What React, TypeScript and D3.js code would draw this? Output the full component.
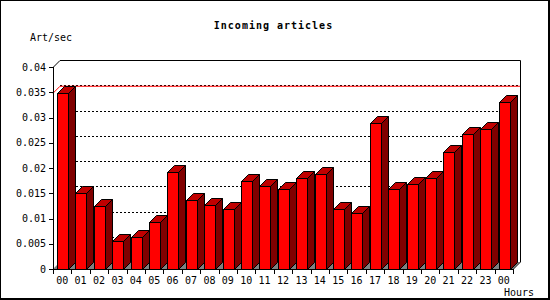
import React, { useEffect } from "react";
import * as d3 from "d3";

const hours = ["00","01","02","03","04","05","06","07","08","09","10","11","12","13","14","15","16","17","18","19","20","21","22","23","00"];
const rates = [0.0348,0.0150,0.0125,0.0055,0.0063,0.0093,0.0192,0.0136,0.0127,0.0119,0.0175,0.0164,0.0158,0.0180,0.0188,0.0119,0.0111,0.0289,0.0158,0.0168,0.0180,0.0232,0.0267,0.0277,0.0330];
const yTicks = [0,0.005,0.01,0.015,0.02,0.025,0.03,0.035,0.04];
const yTickLabels = ["0","0.005","0.01","0.015","0.02","0.025","0.03","0.035","0.04"];
const gridValues = [0.005,0.01,0.015,0.02,0.025,0.03,0.035];

const W = 550, H = 300;
const D = 7;
const mono = "'DejaVu Sans Mono', monospace";

export default function App() {
  useEffect(() => { document.body.style.margin = "0"; }, []);
  const y = d3.scaleLinear().domain([0, 0.04]).range([269, 67]);
  const x = d3.scaleLinear().domain([0, hours.length]).range([53, 513]);
  const maxV = d3.max(rates) as number;
  const x0 = x(0), x1 = x(hours.length);
  const yb = y(0);
  const pts = (a: number[][]) => a.map(p => p.join(",")).join(" ");

  return (
    <svg width={W} height={H} style={{ position: "absolute", left: 0, top: 0, display: "block" }}>
      <rect x={0} y={0} width={W} height={H} fill="#fff" />
      {/* frame */}
      <line x1={0} y1={0.5} x2={550} y2={0.5} stroke="#000" />
      <line x1={0.5} y1={0} x2={0.5} y2={300} stroke="#000" />
      <line x1={549} y1={0} x2={549} y2={300} stroke="#000" strokeWidth={2} />
      <line x1={0} y1={299} x2={550} y2={299} stroke="#000" strokeWidth={2} />

      {/* floor */}
      <polygon points={pts([[x0, yb], [x1, yb], [x1 + D, yb - D], [x0 + D, yb - D]])} fill="#808080" />

      {/* grid lines */}
      {gridValues.map((v, i) => (
        <line key={i} x1={x0 + D} x2={x1 + D} y1={Math.round(y(v) - D) + 0.5} y2={Math.round(y(v) - D) + 0.5}
          stroke="#000" strokeDasharray="2,2" />
      ))}
      {/* max line */}
      <polyline points={pts([[x0, y(maxV)], [x0 + D, y(maxV) - D], [x1 + D, y(maxV) - D]])}
        fill="none" stroke="#ff0000" strokeWidth={1} />

      {/* back plane edges */}
      <polyline points={pts([[x0, y(0.04) + 0.5], [x0 + D, y(0.04) - D + 0.5], [x1 + D + 0.5, y(0.04) - D + 0.5], [x1 + D + 0.5, yb - D], [x1, yb + 0.5]])}
        fill="none" stroke="#000" />

      {/* bars */}
      {rates.map((v, i) => {
        const xl = Math.round(x(i) + 4) + 0.5;
        const xr = xl + 11;
        const yt = Math.round(y(v)) + 0.5;
        const ybb = yb + 0.5;
        return (
          <g key={i} stroke="#000" strokeWidth={1} strokeLinejoin="miter">
            <polygon points={pts([[xr, ybb], [xr + D, ybb - D], [xr + D, yt - D], [xr, yt]])} fill="#800000" />
            <polygon points={pts([[xl, yt], [xl + D, yt - D], [xr + D, yt - D], [xr, yt]])} fill="#c00000" />
            <rect x={xl} y={yt} width={xr - xl} height={ybb - yt} fill="#ff0000" />
          </g>
        );
      })}

      {/* axes */}
      <line x1={x0 + 0.5} x2={x0 + 0.5} y1={y(0.04)} y2={yb + 1} stroke="#000" />
      <line x1={x0} x2={x1} y1={yb + 0.5} y2={yb + 0.5} stroke="#000" />
      {yTicks.map((v, i) => (
        <g key={i}>
          <line x1={x0 - 4} x2={x0} y1={Math.round(y(v)) + 0.5} y2={Math.round(y(v)) + 0.5} stroke="#000" />
          <text x={x0 - 7} y={y(v) + 3.6} textAnchor="end" fontFamily={mono} fontSize={10} fill="#000">{yTickLabels[i]}</text>
        </g>
      ))}
      {d3.range(hours.length + 1).map(i => (
        <line key={i} x1={Math.round(x(i)) + 0.5} x2={Math.round(x(i)) + 0.5} y1={yb} y2={yb + 5} stroke="#000" />
      ))}
      {hours.map((h, i) => (
        <text key={i} x={(x(i) + x(i + 1)) / 2} y={284} textAnchor="middle" fontFamily={mono} fontSize={10} fill="#000">{h}</text>
      ))}

      <text x={273.5} y={29} textAnchor="middle" fontFamily={mono} fontSize={10} fontWeight="bold" letterSpacing={1} fill="#000">Incoming articles</text>
      <text x={30} y={40.5} fontFamily={mono} fontSize={10} fill="#000">Art/sec</text>
      <text x={534} y={296} textAnchor="end" fontFamily={mono} fontSize={10} fill="#000">Hours</text>
    </svg>
  );
}
